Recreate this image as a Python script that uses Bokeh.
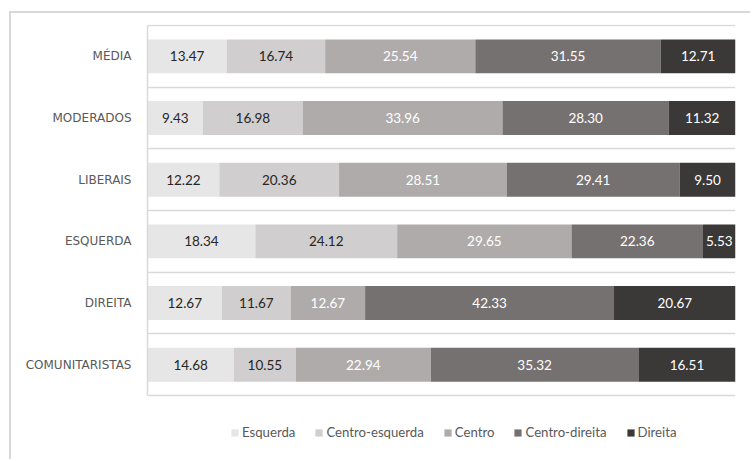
from bokeh.plotting import figure
from bokeh.models import ColumnDataSource, FixedTicker, Range1d, Legend, LegendItem
from bokeh.core.properties import value
from bokeh.embed import file_html
from bokeh.resources import INLINE

# ---- data ----
categories = ["MÉDIA", "MODERADOS", "LIBERAIS", "ESQUERDA", "DIREITA", "COMUNITARISTAS"]
series = ["Esquerda", "Centro-esquerda", "Centro", "Centro-direita", "Direita"]
esquerda = [13.47, 9.43, 12.22, 18.34, 12.67, 14.68]
centro_esquerda = [16.74, 16.98, 20.36, 24.12, 11.67, 10.55]
centro = [25.54, 33.96, 28.51, 29.65, 12.67, 22.94]
centro_direita = [31.55, 28.30, 29.41, 22.36, 42.33, 35.32]
direita = [12.71, 11.32, 9.50, 5.53, 20.67, 16.51]

values = [esquerda, centro_esquerda, centro, centro_direita, direita]
colors = ["#e6e6e6", "#d0cece", "#afabab", "#767171", "#3b3838"]
label_colors = ["#262626", "#262626", "#ffffff", "#ffffff", "#ffffff"]

n = len(categories)
ypos = [n - 0.5 - i for i in range(n)]  # top category at top

src = {"y": ypos}
for name, vals in zip(series, values):
    src[name] = vals
source = ColumnDataSource(src)

# frame spans from plot top down to page bottom so the legend is not clipped
px_per_unit = 370 / n
y_top = n + 1.0 / px_per_unit
y_bottom = -66.0 / px_per_unit

p = figure(width=741, height=448, x_range=Range1d(0, 100), y_range=Range1d(y_bottom, y_top),
           output_backend="svg", toolbar_location=None, x_axis_location=None,
           min_border_left=136, min_border_top=11, min_border_right=17, min_border_bottom=0)
p.styles = {"border-top": "2px solid #d9d9d9", "border-left": "2px solid #d9d9d9",
            "margin-left": "9px", "margin-top": "11px"}
p.outline_line_color = None
p.background_fill_color = "white"
p.border_fill_color = "white"

renderers = p.hbar_stack(series, y="y", height=0.55, color=colors, line_color=None,
                         source=source)

# value labels
lab_x, lab_y, lab_t, lab_c = [], [], [], []
for i in range(n):
    left = 0.0
    for s, vals in enumerate(values):
        v = vals[i]
        lab_x.append(left + v / 2)
        lab_y.append(ypos[i])
        lab_t.append(f"{v:.2f}")
        lab_c.append(label_colors[s])
        left += v
p.text(x=lab_x, y=lab_y, text=lab_t, text_color=lab_c, text_align="center",
       text_baseline="middle", text_font=value("Lato"), text_font_size="13.5px")

# axes / grid
p.yaxis.ticker = FixedTicker(ticks=ypos)
p.yaxis.bounds = (0, n)
p.yaxis.major_label_overrides = {y: c for y, c in zip(ypos, categories)}
p.yaxis.major_tick_line_color = None
p.yaxis.minor_tick_line_color = None
p.yaxis.major_tick_out = 0
p.yaxis.major_tick_in = 0
p.yaxis.major_label_standoff = 16
p.yaxis.axis_line_color = "#d9d9d9"
p.yaxis.axis_line_width = 1.5
p.yaxis.major_label_text_font = "DejaVu Sans"
p.yaxis.major_label_text_font_size = "12px"
p.yaxis.major_label_text_color = "#595959"

p.xgrid.grid_line_color = None
p.ygrid.ticker = FixedTicker(ticks=list(range(n + 1)))
p.ygrid.grid_line_color = "#d9d9d9"
p.ygrid.grid_line_width = 1.5

lg = Legend(items=[LegendItem(label=s, renderers=[r]) for s, r in zip(series, renderers)])
lg.orientation = "horizontal"
lg.location = (83, 21)
lg.border_line_color = None
lg.background_fill_alpha = 0
lg.padding = 0
lg.margin = 0
lg.spacing = 19
lg.label_standoff = 3
lg.glyph_width = 9
lg.glyph_height = 9
lg.label_text_font = "Lato"
lg.label_text_font_size = "13.2px"
lg.label_text_color = "#595959"
p.add_layout(lg, "center")

open("out.html", "w").write(file_html(p, INLINE))
